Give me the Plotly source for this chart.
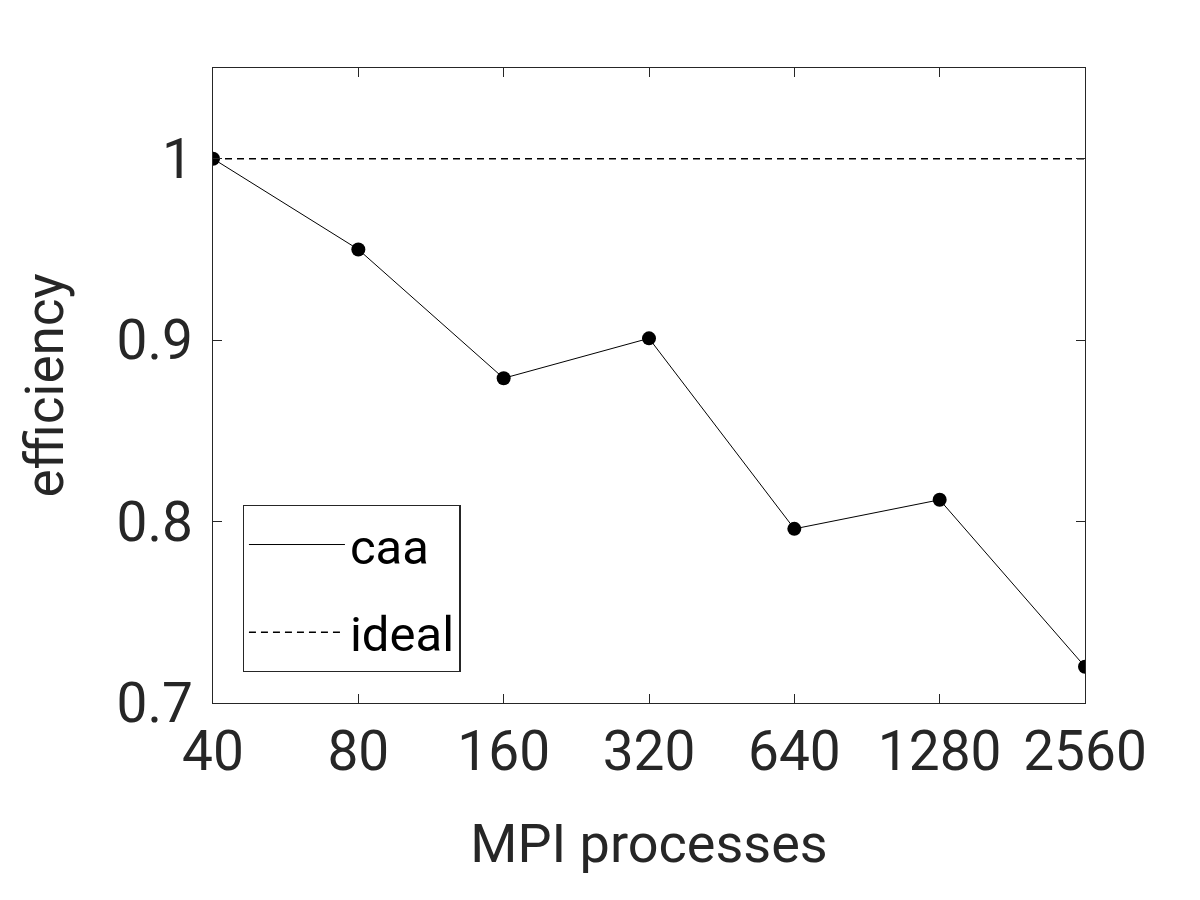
import plotly.graph_objects as go

processes = [40, 80, 160, 320, 640, 1280, 2560]
caa_efficiency = [1.0, 0.950, 0.879, 0.901, 0.796, 0.812, 0.720]
ideal_efficiency = [1.0, 1.0, 1.0, 1.0, 1.0, 1.0, 1.0]
x_tick_labels = ["40", "80", "160", "320", "640", "1280", "2560"]
y_tick_vals = [0.7, 0.8, 0.9, 1.0]
y_tick_labels = ["0.7", "0.8", "0.9", "1"]

AX = "#262626"
FONT = "Roboto"

fig = go.Figure()
fig.add_trace(go.Scatter(
    x=processes, y=caa_efficiency, name="caa", mode="lines",
    legendgroup="caa",
    line=dict(color="black", width=1),
))
fig.add_trace(go.Scatter(
    x=processes, y=caa_efficiency, name="caa", mode="markers",
    legendgroup="caa", showlegend=False,
    marker=dict(color="black", size=14, symbol="circle"),
))
fig.add_trace(go.Scatter(
    x=processes, y=ideal_efficiency, name="ideal", mode="lines",
    legendgroup="ideal",
    line=dict(color="black", width=1.5, dash="7px,5px"),
))

fig.update_layout(
    width=1200, height=900,
    paper_bgcolor="white", plot_bgcolor="white",
    margin=dict(l=205, r=123, t=60, b=205),
    font=dict(family=FONT, color=AX, size=55),
    showlegend=True,
    legend=dict(
        x=0.034, y=0.312, xanchor="left", yanchor="top",
        bgcolor="white", bordercolor=AX, borderwidth=1.3,
        font=dict(family=FONT, size=49, color="black"),
        itemwidth=96, tracegroupgap=21,
    ),
)
fig.update_xaxes(
    type="log", range=[1.60206, 3.40824],
    tickvals=processes, ticktext=x_tick_labels,
    ticks="inside", ticklen=9, tickwidth=1, tickcolor=AX,
    showline=True, linecolor=AX, linewidth=1.3, mirror="ticks",
    showgrid=False, zeroline=False,
    tickfont=dict(family=FONT, size=55, color=AX),
    title=dict(text="MPI processes", font=dict(family=FONT, size=54, color=AX), standoff=42),
)
fig.update_yaxes(
    range=[0.7, 1.05],
    tickvals=y_tick_vals, ticktext=y_tick_labels,
    ticks="inside", ticklen=9, tickwidth=1, tickcolor=AX,
    showline=True, linecolor=AX, linewidth=1.3, mirror="ticks",
    showgrid=False, zeroline=False, ticklabelstandoff=8,
    tickfont=dict(family=FONT, size=55, color=AX),
    title=dict(text="efficiency", font=dict(family=FONT, size=53, color=AX), standoff=35),
)

fig.write_html("out.html")
